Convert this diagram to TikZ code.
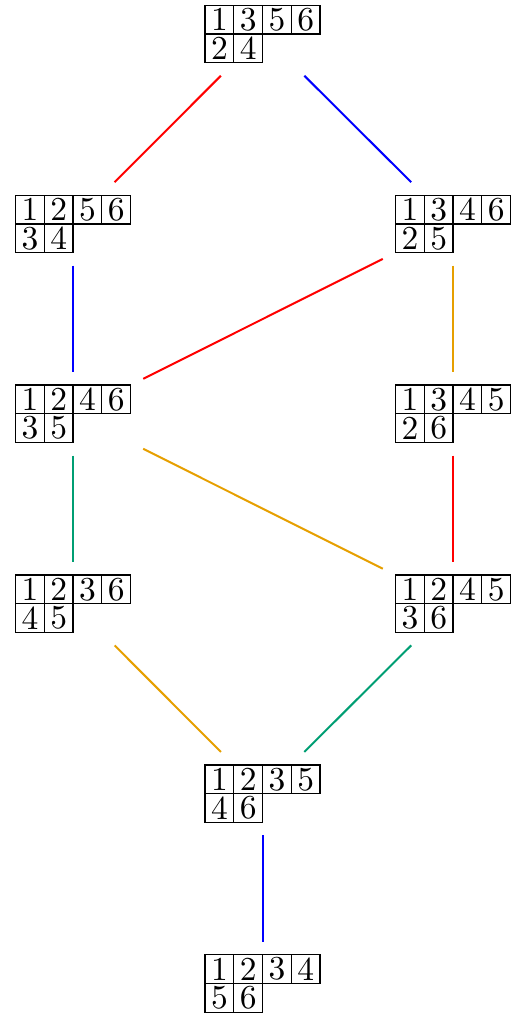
\documentclass[tikz,border=0pt]{standalone}
\usepackage{graphicx}
\usetikzlibrary{calc}
\definecolor{eorange}{HTML}{E69F00}
\definecolor{egreen}{HTML}{009E73}
\definecolor{ered}{HTML}{FF0000}
\definecolor{eblue}{HTML}{0000FF}
\tikzset{
  vert/.style={rectangle, draw=none, minimum width=140pt, minimum height=83pt, inner sep=0pt},
  cell/.style={rectangle, draw=black, line width=1.3pt, minimum width=28.75pt, minimum height=28.75pt, inner sep=0pt},
  edge/.style={line width=2pt}
}
\newcommand\tabl[4]{%
  \node[vert] (#1) at (#2) {};
  \foreach \v [count=\i] in {#3} {\node[cell] (#1-a\i) at ($(#1.center)+(\i*28.75-71.875,-14.375)$) {\scalebox{3.35}{\v}};}
  \foreach \v [count=\i] in {#4} {\node[cell] (#1-b\i) at ($(#1.center)+(\i*28.75-71.875,14.375)$) {\scalebox{3.35}{\v}};}
}
\begin{document}
\begin{tikzpicture}[x=1pt,y=-1pt]
\useasboundingbox (0,0) rectangle (512,1015);
\tabl{t1356}{262.5,34}{1,3,5,6}{2,4}
\tabl{t1256}{73,223.9}{1,2,5,6}{3,4}
\tabl{t1346}{453,223.9}{1,3,4,6}{2,5}
\tabl{t1246}{73,413.8}{1,2,4,6}{3,5}
\tabl{t1345}{453,413.8}{1,3,4,5}{2,6}
\tabl{t1236}{73,603.7}{1,2,3,6}{4,5}
\tabl{t1245}{453,603.7}{1,2,4,5}{3,6}
\tabl{t1235}{262.5,793.6}{1,2,3,5}{4,6}
\tabl{t1234}{262.5,983.5}{1,2,3,4}{5,6}
\draw[edge, ered] (t1356) -- (t1256);
\draw[edge, eblue] (t1356) -- (t1346);
\draw[edge, eblue] (t1256) -- (t1246);
\draw[edge, ered] (t1346) -- (t1246);
\draw[edge, eorange] (t1346) -- (t1345);
\draw[edge, egreen] (t1246) -- (t1236);
\draw[edge, eorange] (t1246) -- (t1245);
\draw[edge, ered] (t1345) -- (t1245);
\draw[edge, eorange] (t1236) -- (t1235);
\draw[edge, egreen] (t1245) -- (t1235);
\draw[edge, eblue] (t1235) -- (t1234);
\end{tikzpicture}
\end{document}
